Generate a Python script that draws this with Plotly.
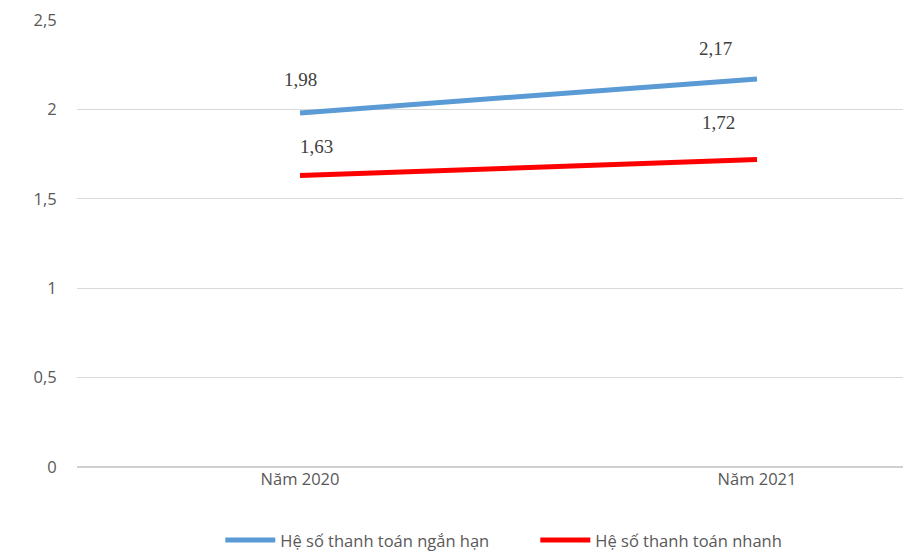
import plotly.graph_objects as go

categories = ["Năm 2020", "Năm 2021"]
ngan_han = [1.98, 2.17]
nhanh = [1.63, 1.72]
series_names = ["Hệ số thanh toán ngắn hạn", "Hệ số thanh toán nhanh"]
y_ticks = [0, 0.5, 1, 1.5, 2, 2.5]
y_tick_labels = ["0", "0,5", "1", "1,5", "2", "2,5"]

def fmt(v):
    return f"{v:.2f}".replace(".", ",")

fig = go.Figure()
fig.add_trace(go.Scatter(x=categories, y=ngan_han, mode="lines", name=series_names[0],
                         line=dict(color="#5B9BD5", width=5)))
fig.add_trace(go.Scatter(x=categories, y=nhanh, mode="lines", name=series_names[1],
                         line=dict(color="#FF0000", width=5)))

label_font = dict(family="Liberation Serif", size=19, color="#404040")
offsets = {
    (0, 0): (0, 33), (0, 1): (-41, 31),
    (1, 0): (16, 29), (1, 1): (-38, 37),
}
for si, vals in enumerate([ngan_han, nhanh]):
    for ci, v in enumerate(vals):
        dx, dy = offsets[(si, ci)]
        fig.add_annotation(x=categories[ci], y=v, text=fmt(v), showarrow=False,
                           xshift=dx, yshift=dy, font=label_font)

fig.update_layout(
    width=903, height=553,
    margin=dict(l=77, r=0, t=20, b=86, autoexpand=False),
    plot_bgcolor="white", paper_bgcolor="white",
    separators=",.",
    showlegend=True,
    legend=dict(orientation="h", x=0.1735, xanchor="left", y=-0.125, yanchor="top",
                font=dict(family="Open Sans", size=16.5, color="#595959"),
                itemwidth=50, tracegroupgap=0,
                entrywidth=250, entrywidthmode="pixels"),
    xaxis=dict(type="category", range=[-0.488, 1.3195], showgrid=False,
               showline=False, zeroline=False, ticks="", automargin=False,
               tickfont=dict(family="Open Sans", size=16.5, color="#595959")),
    yaxis=dict(range=[0, 2.5], tickvals=y_ticks, ticktext=y_tick_labels,
               showgrid=True, gridcolor="#D9D9D9", gridwidth=1, automargin=False,
               zeroline=True, zerolinecolor="#D0D0D0", zerolinewidth=1.5,
               ticks="outside", ticklen=16, tickcolor="rgba(0,0,0,0)",
               tickfont=dict(family="Open Sans", size=16.5, color="#595959")),
)

fig.write_html("out.html", config={"displayModeBar": False},
               post_script="document.body.style.margin='0';document.body.style.overflow='hidden';")
